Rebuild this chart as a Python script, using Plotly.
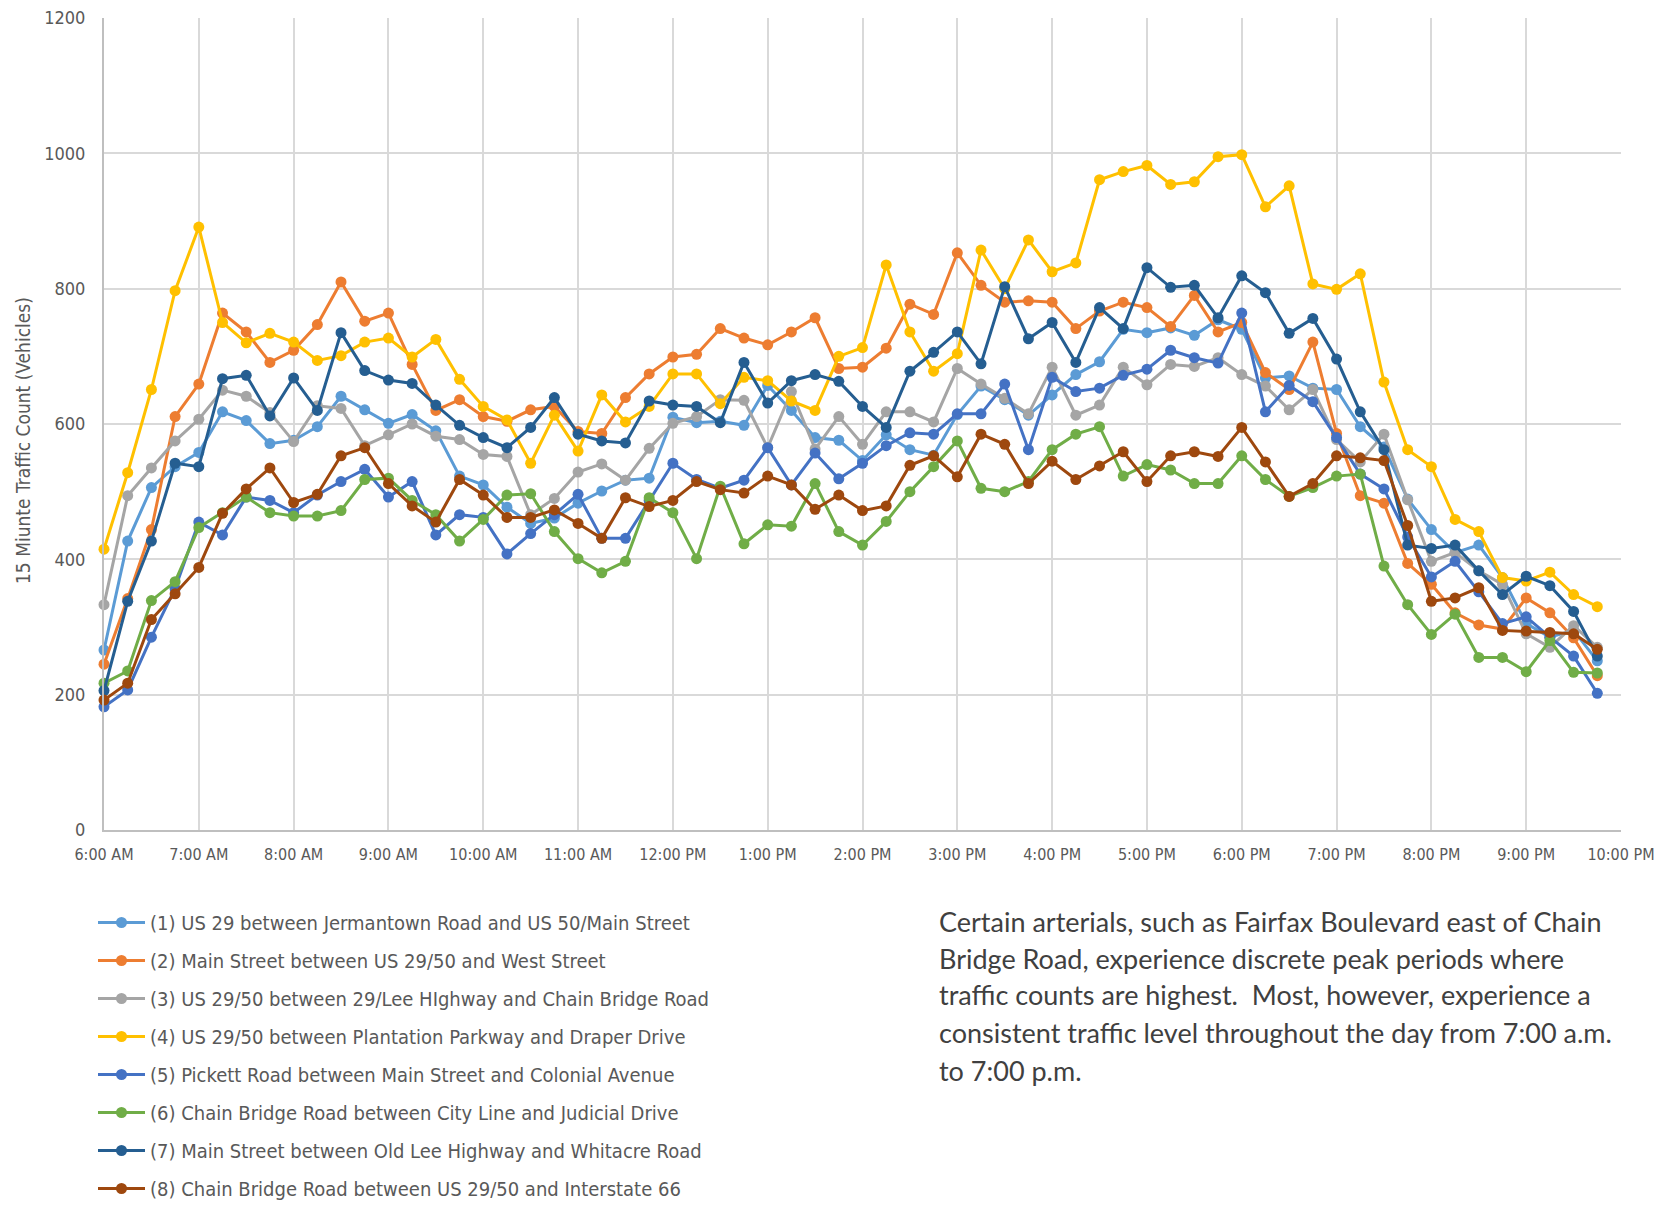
import plotly.graph_objects as go

# 15-minute intervals from 6:00 AM (hour 6.0) to 9:45 PM (hour 21.75)
hours = [6 + 0.25 * i for i in range(64)]

tick_hours = list(range(6, 23))
tick_labels = ["6:00 AM", "7:00 AM", "8:00 AM", "9:00 AM", "10:00 AM", "11:00 AM",
               "12:00 PM", "1:00 PM", "2:00 PM", "3:00 PM", "4:00 PM", "5:00 PM",
               "6:00 PM", "7:00 PM", "8:00 PM", "9:00 PM", "10:00 PM"]

names = [
    "(1) US 29 between Jermantown Road and US 50/Main Street",
    "(2) Main Street between US 29/50 and West Street",
    "(3) US 29/50 between 29/Lee HIghway and Chain Bridge Road",
    "(4) US 29/50 between Plantation Parkway and Draper Drive",
    "(5) Pickett Road between Main Street and Colonial Avenue",
    "(6) Chain Bridge Road between City Line and Judicial Drive",
    "(7) Main Street between Old Lee Highway and Whitacre Road",
    "(8) Chain Bridge Road between US 29/50 and Interstate 66",
]

s1 = [266, 427, 506, 537, 558, 618, 605, 571, 576, 596, 641, 621, 601, 614, 590, 523, 510,
      477, 453, 461, 483, 501, 517, 520, 610, 602, 604, 598, 657, 620, 580, 576, 546,
      584, 562, 554, 614, 656, 636, 613, 643, 673, 692, 740, 735, 742, 731, 754, 740,
      668, 671, 653, 651, 596, 566, 489, 444, 410, 421, 373, 305, 285, 295, 250]
s2 = [245, 342, 444, 611, 659, 764, 736, 691, 709, 747, 810, 752, 764, 688, 620, 636, 611,
      604, 621, 626, 589, 586, 639, 674, 699, 703, 741, 727, 717, 736, 757, 682, 684,
      712, 777, 762, 853, 805, 780, 782, 780, 741, 767, 780, 772, 744, 790, 736, 750,
      676, 651, 721, 586, 494, 483, 394, 363, 321, 303, 297, 343, 321, 284, 228]
s3 = [333, 494, 535, 575, 607, 650, 641, 617, 574, 627, 623, 568, 584, 600, 582, 577, 555,
      552, 466, 490, 529, 541, 517, 564, 601, 611, 636, 635, 565, 648, 563, 611, 570,
      618, 618, 603, 682, 659, 638, 615, 684, 613, 628, 684, 658, 688, 685, 698, 673,
      656, 621, 651, 577, 544, 585, 488, 397, 410, 383, 363, 290, 270, 302, 270]
s4 = [415, 528, 651, 797, 891, 750, 720, 734, 721, 694, 701, 721, 727, 699, 725, 666, 626,
      606, 542, 613, 560, 643, 603, 626, 674, 674, 630, 669, 664, 634, 620, 700, 713,
      835, 736, 678, 704, 857, 800, 872, 825, 838, 961, 973, 982, 954, 958, 995, 998,
      921, 952, 807, 799, 822, 662, 562, 537, 459, 441, 373, 368, 381, 348, 330]
s5 = [182, 207, 285, 357, 455, 436, 492, 487, 469, 495, 515, 533, 492, 515, 436, 466, 462,
      408, 438, 466, 496, 431, 431, 487, 542, 518, 505, 517, 565, 510, 557, 519, 542,
      568, 587, 585, 615, 615, 659, 562, 669, 648, 653, 672, 681, 709, 698, 690, 764,
      618, 657, 633, 580, 526, 504, 433, 374, 397, 352, 305, 315, 285, 257, 202]
s6 = [217, 235, 339, 367, 447, 469, 492, 469, 464, 464, 472, 518, 520, 487, 466, 427, 459,
      495, 497, 441, 401, 380, 397, 491, 469, 401, 508, 423, 451, 449, 512, 441, 421,
      456, 500, 537, 575, 505, 500, 515, 562, 585, 596, 523, 540, 532, 512, 512, 553,
      518, 493, 506, 523, 526, 390, 333, 289, 319, 255, 255, 234, 280, 233, 232]
s7 = [206, 338, 427, 542, 537, 667, 672, 612, 668, 620, 735, 679, 665, 660, 628, 598, 580,
      565, 595, 639, 585, 575, 572, 634, 628, 626, 602, 691, 631, 664, 673, 663, 626,
      595, 678, 706, 736, 689, 803, 726, 750, 691, 772, 741, 831, 802, 805, 757, 819,
      794, 734, 756, 696, 618, 562, 421, 416, 421, 383, 348, 375, 361, 323, 257]
s8 = [192, 217, 311, 349, 388, 468, 504, 535, 484, 496, 553, 565, 512, 479, 455, 518, 495,
      462, 462, 473, 453, 431, 491, 478, 487, 515, 503, 498, 523, 510, 474, 495, 472,
      479, 539, 553, 522, 585, 570, 512, 545, 518, 538, 559, 515, 553, 559, 552, 595,
      544, 493, 512, 553, 550, 546, 450, 338, 343, 358, 295, 294, 292, 290, 267]

series = [s1, s2, s3, s4, s5, s6, s7, s8]
colors = ["#5B9BD5", "#ED7D31", "#A5A5A5", "#FFC000", "#4472C4", "#70AD47", "#255E91", "#9E480E"]

note_lines = [
    "Certain arterials, such as Fairfax Boulevard east of Chain",
    "Bridge Road, experience discrete peak periods where",
    "traffic counts are highest.\u00a0 Most, however, experience a",
    "consistent traffic level throughout the day from 7:00 a.m.",
    "to 7:00 p.m.",
]

# page body has an 8px margin; figure sized to fit the 1667x1205 window
OFF = 8
W, H = 1667 - OFF, 1205 - OFF
# plot area in page pixels: x 104..1621, y 18..830
ml, mt = 104 - OFF, 18 - OFF
mr = W - (1621 - OFF)
mb = H - (830 - OFF)
pw, ph = W - ml - mr, H - mt - mb

def px_x(x):  # page pixel -> paper x
    return (x - OFF - ml) / pw

def px_y(y):  # page pixel -> paper y
    return (H - mb - (y - OFF)) / ph

fig = go.Figure()
for name, vals, col in zip(names, series, colors):
    fig.add_trace(go.Scatter(
        x=hours, y=vals, name=name, mode="lines+markers",
        line=dict(color=col, width=3),
        marker=dict(color=col, size=11),
        cliponaxis=False, legendgroup=name,
    ))

COND = "DejaVu Sans Condensed, DejaVu Sans, sans-serif"

fig.update_layout(
    width=W, height=H,
    margin=dict(l=ml, r=mr, t=mt, b=mb, autoexpand=False),
    paper_bgcolor="white", plot_bgcolor="white",
    showlegend=True,
    legend=dict(
        x=px_x(93), y=px_y(903), xanchor="left", yanchor="top",
        orientation="v", tracegroupgap=9, itemwidth=47,
        font=dict(family=COND, size=20, color="#595959"),
        bgcolor="rgba(0,0,0,0)",
    ),
    xaxis=dict(
        range=[6, 22], tickmode="array", tickvals=tick_hours, ticktext=tick_labels,
        showgrid=True, gridcolor="#D9D9D9", gridwidth=2,
        showline=True, linecolor="#BFBFBF", linewidth=2,
        ticks="", tickfont=dict(family=COND, size=16, color="#595959"),
        ticklabelstandoff=9, ticklabeloverflow="allow", zeroline=False,
    ),
    yaxis=dict(
        range=[0, 1200], tickmode="linear", tick0=0, dtick=200,
        showgrid=True, gridcolor="#D9D9D9", gridwidth=2,
        showline=True, linecolor="#BFBFBF", linewidth=2,
        ticks="", tickfont=dict(family=COND, size=18, color="#595959"),
        ticklabelstandoff=13, ticklabeloverflow="allow", zeroline=False,
    ),
)

annotations = [dict(
    text="15 Miunte Traffic Count (Vehicles)", textangle=-90,
    xref="paper", yref="paper", x=px_x(23), y=px_y(441),
    xanchor="center", yanchor="middle", showarrow=False,
    font=dict(family=COND, size=19, color="#595959"),
)]
line_y = [921, 958, 995, 1032, 1070]
for txt, yy in zip(note_lines, line_y):
    annotations.append(dict(
        text=txt, xref="paper", yref="paper", x=px_x(937), y=px_y(yy),
        xanchor="left", yanchor="middle", showarrow=False,
        font=dict(family="Lato, Open Sans, sans-serif", size=27, color="#404040"),
    ))
fig.update_layout(annotations=annotations)

fig.write_html("out.html")
